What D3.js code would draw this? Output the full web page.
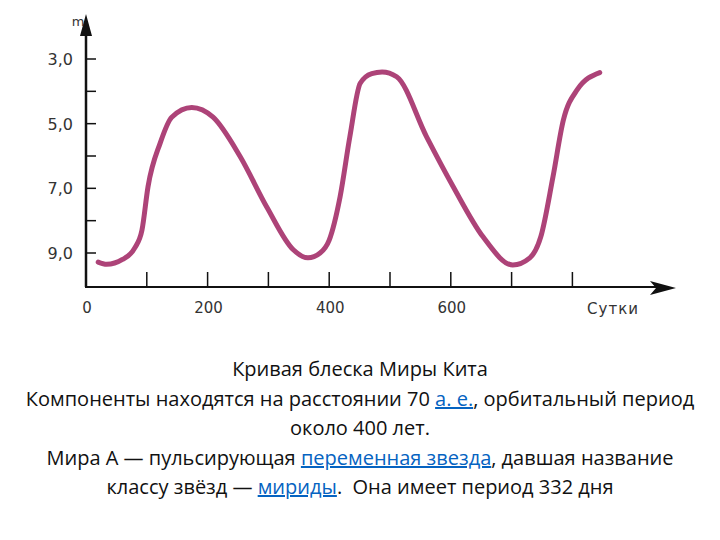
<!DOCTYPE html>
<html><head><meta charset="utf-8">
<script src="https://cdn.jsdelivr.net/npm/d3@7"></script>
<style>
body{margin:0;background:#fff}
.cap{position:absolute;left:0;width:720px;top:354px;text-align:center;font-family:"Open Sans",sans-serif;font-size:20px;line-height:29.5px;color:#111;white-space:nowrap}
.cap a{color:#0563c1;text-decoration:underline}
</style></head>
<body>
<svg id="chart" width="720" height="345" style="position:absolute;left:0;top:0"></svg>
<div class="cap">
Кривая блеска Миры Кита<br>
Компоненты находятся на расстоянии 70 <a>а. е.</a>, орбитальный период<br>
около 400 лет.<br>
Мира A — пульсирующая <a>переменная звезда</a>, давшая название<br>
классу звёзд — <a>мириды</a>.&nbsp; Она имеет период 332 дня
</div>
<script>
// light curve: days, magnitude
const days = [20, 34, 60, 80, 92, 102, 122, 141, 174, 209, 253, 298, 341, 365, 385, 400, 418, 434, 451, 470, 487, 511, 560, 604, 653, 702, 730, 748, 768, 785, 808, 845];
const mags = [9.28, 9.35, 9.2, 8.85, 8.3, 6.95, 5.6, 4.8, 4.5, 4.8, 6.0, 7.6, 8.9, 9.15, 9.0, 8.6, 7.25, 5.4, 3.75, 3.45, 3.4, 3.55, 5.4, 6.95, 8.5, 9.37, 9.15, 8.5, 6.65, 4.9, 3.95, 3.42];
const xTickVals = [100, 200, 300, 400, 500, 600, 700, 800];
const xLabels = [0, 200, 400, 600];
const yTickVals = [3, 4, 5, 6, 7, 8, 9];
const yLabels = ["3,0", "5,0", "7,0", "9,0"];

const svg = d3.select("#chart");
const x = d3.scaleLinear().domain([0, 100]).range([86, 146.8]);
const y = d3.scaleLinear().domain([3, 9]).range([59, 253]);
const axisCol = "#111";
const font = "DejaVu Sans, sans-serif";

// axes
svg.append("line").attr("x1", 86).attr("x2", 86).attr("y1", 287).attr("y2", 30)
  .attr("stroke", axisCol).attr("stroke-width", 2.5);
svg.append("path").attr("d", "M86,14 L80,36 L92,36 Z").attr("fill", axisCol);
svg.append("line").attr("x1", 85).attr("x2", 660).attr("y1", 287).attr("y2", 287)
  .attr("stroke", axisCol).attr("stroke-width", 2.2);
svg.append("path").attr("d", "M676,288 L650,281 L656,288 L650,295 Z").attr("fill", axisCol);

svg.selectAll(".xt").data(xTickVals).enter().append("line")
  .attr("x1", d => x(d)).attr("x2", d => x(d)).attr("y1", 272).attr("y2", 287)
  .attr("stroke", axisCol).attr("stroke-width", 1.5);
svg.selectAll(".yt").data(yTickVals).enter().append("line")
  .attr("x1", 86).attr("x2", 96).attr("y1", d => y(d)).attr("y2", d => y(d))
  .attr("stroke", axisCol).attr("stroke-width", 1.5);

svg.selectAll("text.xlab").data(xLabels).enter().append("text").attr("class", "xlab")
  .attr("x", d => x(d) + (d === 0 ? 1 : 1)).attr("y", 313).attr("text-anchor", "middle")
  .attr("font-family", font).attr("font-size", "15px").attr("fill", "#333")
  .text(d => d);
svg.selectAll("text.ylab").data(yLabels).enter().append("text").attr("class", "ylab")
  .attr("x", 73).attr("y", (d, i) => y(3 + i * 2) + 6).attr("text-anchor", "end")
  .attr("font-family", font).attr("font-size", "16px").attr("fill", "#333")
  .text(d => d);
svg.append("text").attr("x", 78).attr("y", 26).attr("text-anchor", "middle")
  .attr("font-family", font).attr("font-size", "13px").attr("fill", "#333").text("m");
svg.append("text").attr("x", 613).attr("y", 314).attr("text-anchor", "middle")
  .attr("font-family", font).attr("font-size", "15px").attr("fill", "#333")
  .attr("letter-spacing", "1px").text("Сутки");

// curve
const pts = days.map((d, i) => [d, mags[i]]);
svg.append("path").datum(pts)
  .attr("d", d3.line().x(d => x(d[0])).y(d => y(d[1])).curve(d3.curveMonotoneX))
  .attr("fill", "none").attr("stroke", "#ad4378").attr("stroke-width", 5)
  .attr("stroke-linecap", "round").attr("stroke-linejoin", "round");
</script>
</body></html>
